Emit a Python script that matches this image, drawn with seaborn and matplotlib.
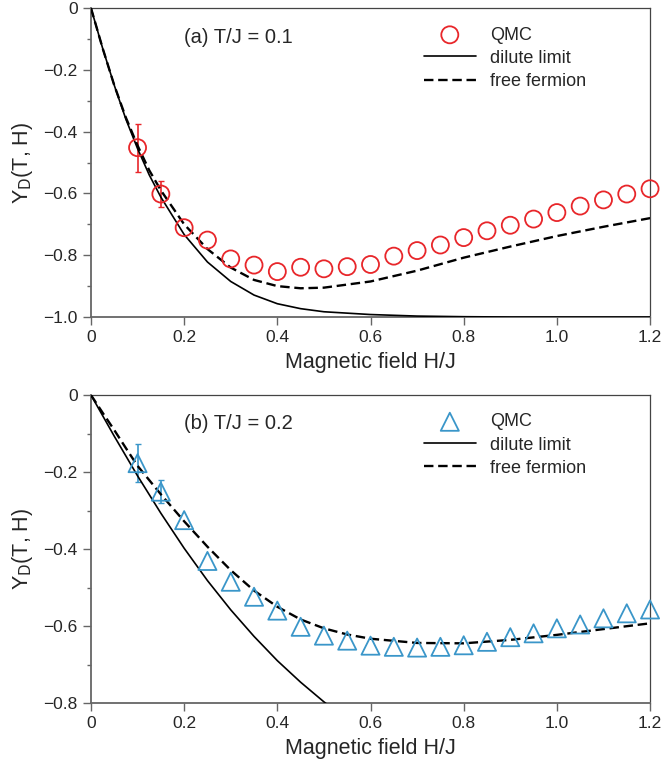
import matplotlib
matplotlib.use("Agg")
import matplotlib.pyplot as plt
import numpy as np
import pandas as pd
import seaborn as sns

# QMC data points, H/J in steps of 0.05
qmc_h = [0.10, 0.15, 0.20, 0.25, 0.30, 0.35, 0.40, 0.45, 0.50, 0.55, 0.60,
         0.65, 0.70, 0.75, 0.80, 0.85, 0.90, 0.95, 1.00, 1.05, 1.10, 1.15, 1.20]

qmc_a = [-0.452, -0.602, -0.711, -0.751, -0.812, -0.832, -0.853, -0.839, -0.844,
         -0.837, -0.830, -0.803, -0.785, -0.767, -0.743, -0.721, -0.703, -0.683,
         -0.662, -0.641, -0.621, -0.602, -0.585]
err_a = [0.078, 0.041] + [0.0] * 21

qmc_b = [-0.177, -0.251, -0.325, -0.431, -0.485, -0.524, -0.560, -0.602, -0.625,
         -0.638, -0.651, -0.654, -0.656, -0.654, -0.650, -0.641, -0.629, -0.619,
         -0.606, -0.596, -0.580, -0.567, -0.557]
err_b = [0.050, 0.030] + [0.0] * 21

# theory curves (a) T/J = 0.1
curve_h_a = [0.0, 0.025, 0.05, 0.075, 0.10, 0.125, 0.15, 0.20, 0.25, 0.30, 0.35,
             0.40, 0.45, 0.50, 0.60, 0.70, 0.80, 0.90, 1.00, 1.10, 1.20]
free_a = [0.0, -0.13, -0.25, -0.355, -0.445, -0.525, -0.59, -0.70, -0.78, -0.84,
          -0.88, -0.90, -0.907, -0.905, -0.885, -0.85, -0.808, -0.772, -0.738,
          -0.708, -0.68]
dilute_a = [0.0, -0.13, -0.25, -0.36, -0.455, -0.54, -0.612, -0.733, -0.822, -0.885,
            -0.929, -0.957, -0.973, -0.983, -0.992, -0.997, -0.999, -1.0, -1.0,
            -1.0, -1.0]

# theory curves (b) T/J = 0.2
curve_h_b = [0.0, 0.025, 0.05, 0.075, 0.10, 0.15, 0.20, 0.25, 0.30, 0.35, 0.40,
             0.45, 0.50, 0.55, 0.60, 0.70, 0.80, 0.90, 1.00, 1.10, 1.20]
free_b = [0.0, -0.046, -0.091, -0.138, -0.184, -0.258, -0.328, -0.394, -0.455,
          -0.508, -0.550, -0.583, -0.606, -0.622, -0.633, -0.644, -0.645, -0.636,
          -0.623, -0.608, -0.593]
dilute_h_b = [0.0, 0.05, 0.10, 0.15, 0.20, 0.25, 0.30, 0.35, 0.40, 0.45, 0.50, 0.55]
dilute_b = [0.0, -0.107, -0.21, -0.307, -0.398, -0.482, -0.558, -0.627, -0.690,
            -0.746, -0.797, -0.843]

red = "#e8262a"
blue = "#3a96c9"

sns.set_style("ticks")
plt.rcParams["font.family"] = ["Liberation Sans", "DejaVu Sans"]
plt.rcParams["axes.edgecolor"] = "#666666"

fig = plt.figure(figsize=(6.64, 7.70), dpi=100)
ax_a = fig.add_axes([0.137, 0.5883, 0.842, 0.4013])
ax_b = fig.add_axes([0.137, 0.087, 0.842, 0.400])


def draw_panel(ax, y, err, marker, size, color, h_free, free, h_dil, dil,
               ylim, title):
    ax.errorbar(qmc_h[:2], y[:2], yerr=err[:2], fmt="none", ecolor=color,
                elinewidth=1.2, capsize=2.5, capthick=1.0, zorder=2)
    sns.lineplot(x=h_dil, y=dil, ax=ax, color="black", lw=1.2,
                 estimator=None, sort=False, label="dilute limit", zorder=3)
    sns.lineplot(x=h_free, y=free, ax=ax, color="black", lw=1.7,
                 dashes=False, estimator=None, sort=False,
                 label="free fermion", zorder=3)
    ax.lines[-1].set_dashes((4, 2))
    sns.scatterplot(x=qmc_h, y=y, ax=ax, marker=marker, s=size,
                    facecolor="none", edgecolor=color, linewidth=1.3,
                    label="QMC", zorder=4, clip_on=False)

    ax.set_xlim(0, 1.2)
    ax.set_ylim(*ylim)
    ax.set_xticks(np.arange(0, 1.21, 0.2))
    ax.set_xticklabels(["0", "0.2", "0.4", "0.6", "0.8", "1.0", "1.2"])
    yt = np.arange(ylim[0], 0.001, 0.2)
    ax.set_yticks(yt)
    ax.set_yticklabels(["0" if abs(v) < 1e-9 else "\u2212%.1f" % abs(v) for v in yt])
    ax.set_yticks(np.arange(ylim[0] + 0.1, 0, 0.2), minor=True)
    ax.tick_params(axis="both", which="major", direction="out", length=6,
                   width=1.0, labelsize=12.5, color="#666666")
    ax.tick_params(axis="y", which="minor", direction="out", length=3,
                   width=1.0, color="#666666")
    for side in ["left", "bottom"]:
        ax.spines[side].set_linewidth(1.3)
    for side in ["top", "right"]:
        ax.spines[side].set_linewidth(0.9)
        ax.spines[side].set_color("#444444")

    ax.set_xlabel("Magnetic field H/J", fontsize=15.5, labelpad=5)
    ax.set_ylabel(r"Y$_\mathrm{D}$(T, H)", fontsize=15.5, labelpad=6)
    ax.text(0.166, 0.906, title, transform=ax.transAxes, fontsize=14.5,
            va="center", ha="left")

    handles, labels = ax.get_legend_handles_labels()
    order = [labels.index(k) for k in ["QMC", "dilute limit", "free fermion"]]
    ax.legend([handles[i] for i in order], [labels[i] for i in order],
              loc="upper left", bbox_to_anchor=(0.595, 0.94), frameon=False,
              fontsize=13, handlelength=2.9, handletextpad=0.8,
              labelspacing=0.34, borderpad=0, borderaxespad=0)


draw_panel(ax_a, qmc_a, err_a, "o", 150, red, curve_h_a, free_a,
           curve_h_a, dilute_a, (-1.0, 0.0), "(a) T/J = 0.1")
draw_panel(ax_b, qmc_b, err_b, "^", 170, blue, curve_h_b, free_b,
           dilute_h_b, dilute_b, (-0.8, 0.0), "(b) T/J = 0.2")

fig.savefig("out.png", dpi=100)
